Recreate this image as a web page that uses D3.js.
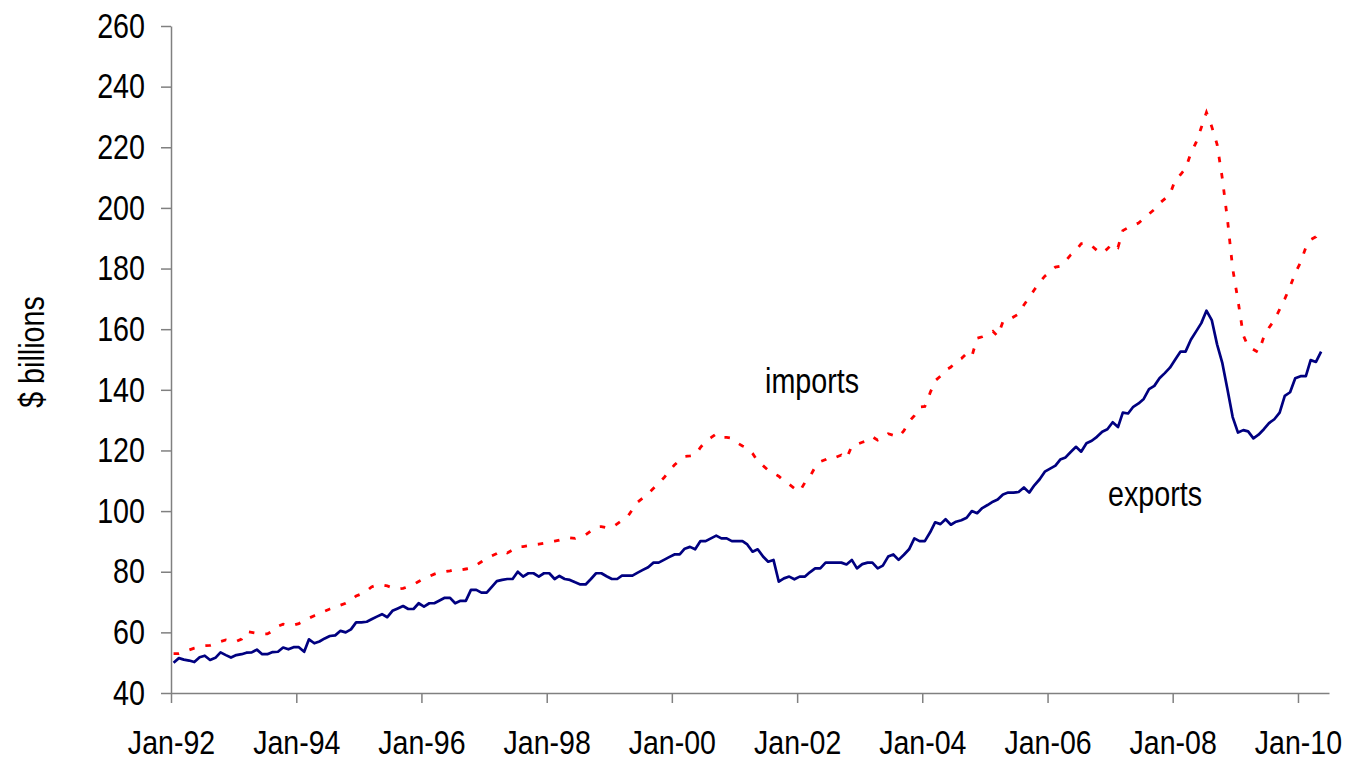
<!DOCTYPE html>
<html>
<head>
<meta charset="utf-8">
<script src="https://cdnjs.cloudflare.com/ajax/libs/d3/7.8.5/d3.min.js"></script>
<style>
  html, body { margin: 0; padding: 0; background: #ffffff; }
  svg { display: block; }
  text { font-family: "Liberation Sans", Arial, sans-serif; fill: #000; }
</style>
</head>
<body>
<svg id="chart" width="1349" height="763"></svg>
<script>
// ---- data (monthly, $ billions), Jan 1992 onward ----
const startMonth = "1992-01";
const exportsData = [
  50.0, 51.5, 51.0, 50.7, 50.2, 51.8, 52.3, 50.9, 51.6, 53.4, 52.5, 51.7,
  52.5, 52.8, 53.3, 53.4, 54.3, 52.8, 52.8, 53.5, 53.6, 55.0, 54.4, 55.1,
  55.1, 53.6, 57.7, 56.4, 57.0, 58.0, 58.8, 59.0, 60.5, 60.0, 61.0, 63.3,
  63.3, 63.5, 64.3, 65.2, 66.0, 65.0, 67.1, 67.9, 68.7, 67.7, 67.7, 69.6,
  68.5, 69.6, 69.6, 70.5, 71.4, 71.4, 69.6, 70.4, 70.4, 74.0, 74.0, 73.1,
  73.1, 75.1, 76.9, 77.3, 77.6, 77.6, 80.0, 78.4, 79.5, 79.5, 78.4, 79.5,
  79.5, 77.6, 78.6, 77.6, 77.3, 76.5, 75.8, 75.8, 77.6, 79.5, 79.5, 78.5,
  77.6, 77.6, 78.7, 78.7, 78.7, 79.7, 80.6, 81.5, 83.0, 83.0, 83.9, 84.8,
  85.7, 85.7, 87.6, 88.2, 87.4, 90.1, 90.1, 91.0, 91.9, 91.0, 91.0, 90.1,
  90.1, 90.1, 89.0, 86.6, 87.4, 85.0, 83.3, 83.9, 76.7, 77.8, 78.4, 77.5,
  78.4, 78.4, 79.8, 81.1, 81.1, 83.0, 83.0, 83.0, 83.0, 82.4, 83.9, 81.1,
  82.5, 83.0, 83.0, 81.1, 82.0, 85.0, 85.7, 83.9, 85.6, 87.4, 91.0, 90.1,
  90.1, 93.0, 96.3, 95.7, 97.3, 95.5, 96.5, 97.0, 97.8, 100.0, 99.3, 101.0,
  102.0, 103.1, 103.8, 105.5, 106.1, 106.1, 106.3, 107.8, 106.1, 108.5, 110.5, 113.0,
  114.0, 115.0, 117.0, 117.7, 119.5, 121.2, 119.6, 122.4, 123.2, 124.5, 126.2, 127.0,
  129.3, 127.7, 132.5, 132.2, 134.4, 135.5, 137.0, 140.2, 141.3, 143.8, 145.5, 147.3,
  150.0, 152.6, 152.6, 156.5, 159.2, 162.0, 166.1, 163.0, 155.0, 149.0, 140.0, 131.0,
  125.9, 126.7, 126.3, 124.0, 125.2, 127.0, 129.0, 130.3, 132.5, 138.0, 139.2, 143.8,
  144.5, 144.5, 149.8, 149.2, 152.6
];
const importsData = [
  53.0, 53.0, 53.5, 54.2, 54.8, 55.2, 55.6, 55.7, 56.3, 57.0, 57.5, 57.0,
  57.0, 57.8, 60.3, 60.0, 59.7, 59.5, 59.5, 60.5, 62.0, 62.7, 62.3, 62.4,
  62.9, 63.8, 64.7, 65.5, 66.3, 67.0, 67.7, 68.3, 69.0, 69.6, 70.6, 72.0,
  72.7, 73.7, 75.0, 75.6, 75.6, 75.3, 74.7, 74.3, 74.5, 75.1, 75.8, 76.8,
  77.8, 78.5, 79.2, 79.8, 80.0, 80.3, 80.8, 80.6, 80.9, 81.2, 82.2, 83.3,
  84.5, 85.3, 86.0, 87.0, 86.2, 87.2, 88.2, 88.3, 88.6, 88.9, 89.1, 89.4,
  89.8, 90.1, 90.4, 90.9, 91.2, 91.0, 91.8, 92.2, 93.5, 94.8, 94.9, 94.5,
  94.6, 95.8, 96.9, 98.0, 100.5, 103.0, 104.3, 105.8, 107.5, 109.3, 111.0, 113.2,
  115.2, 116.8, 118.0, 118.2, 118.5, 121.0, 123.0, 124.2, 125.5, 124.3, 124.3, 124.0,
  122.5, 121.5, 120.8, 119.0, 116.5, 115.0, 113.5, 112.5, 111.5, 110.0, 108.8, 107.5,
  106.5, 109.5, 111.3, 114.5, 116.3, 117.0, 118.0, 117.8, 118.5, 117.3, 121.5, 122.0,
  122.7, 123.2, 124.5, 123.4, 124.3, 125.5, 125.0, 124.5, 126.5, 129.5, 131.5, 134.3,
  134.5, 139.0, 143.0, 144.5, 146.5, 147.5, 149.3, 150.3, 152.0, 151.0, 157.0, 157.5,
  158.3, 159.3, 157.7, 162.5, 163.0, 164.0, 165.0, 168.0, 170.5, 173.0, 175.5, 177.5,
  179.0, 180.5, 180.8, 182.5, 184.5, 186.0, 188.2, 188.5, 187.5, 186.0, 185.0, 186.5,
  188.3, 187.0, 192.5, 193.5, 194.2, 195.0, 196.5, 198.0, 199.5, 201.5, 203.0, 204.5,
  209.2, 211.0, 213.0, 218.0, 221.5, 226.5, 231.5, 226.8, 221.0, 210.0, 196.0, 180.0,
  169.5, 158.0, 154.3, 153.3, 152.3, 157.5, 160.5, 163.0, 166.5, 170.0, 174.0, 178.5,
  182.0, 187.0, 189.5, 190.5, 193.5
];
const yTicks = [40, 60, 80, 100, 120, 140, 160, 180, 200, 220, 240, 260];
const xTickLabels = ["Jan-92", "Jan-94", "Jan-96", "Jan-98", "Jan-00", "Jan-02", "Jan-04", "Jan-06", "Jan-08", "Jan-10"];
const seriesLabels = ["imports", "exports"];
const yTitle = "$ billions";

(function () {
  const svg = d3.select("#chart");
  const mL = 171, mR = 1329, mT = 26, mB = 693;
  const FS = 35, FSX = 34, SX = 0.82;

  const parseMonth = d3.timeParse("%Y-%m");
  const parseLabel = d3.timeParse("%b-%y");
  const start = parseMonth(startMonth);
  const months = exportsData.map((_, i) => d3.timeMonth.offset(start, i));
  const mid = d => new Date(d.getTime() + 15 * 24 * 3600 * 1000);

  const x = d3.scaleTime()
    .domain([start, d3.timeMonth.offset(start, 222)])
    .range([mL, mR]);
  const y = d3.scaleLinear().domain([40, 260]).range([mB, mT]);

  svg.append("rect").attr("width", 1349).attr("height", 763).attr("fill", "#fff");

  // y axis
  const gy = svg.append("g")
    .attr("transform", `translate(${mL},0)`)
    .call(d3.axisLeft(y).tickValues(yTicks).tickSize(10).tickSizeOuter(0).tickPadding(16));
  gy.attr("font-size", FS).attr("font-family", null);
  gy.select(".domain").attr("stroke", "#808080").attr("stroke-width", 1.5);
  gy.selectAll(".tick line").attr("stroke", "#808080").attr("stroke-width", 1.5);
  gy.selectAll(".tick text")
    .attr("x", -26 / SX)
    .attr("transform", `scale(${SX},1)`)
    .attr("fill", "#000");

  // x axis
  const xTickDates = xTickLabels.map(s => parseLabel(s));
  const gx = svg.append("g")
    .attr("transform", `translate(0,${mB})`)
    .call(d3.axisBottom(x).tickValues(xTickDates).tickFormat(d3.timeFormat("%b-%y"))
      .tickSize(10).tickSizeOuter(0).tickPadding(27));
  gx.attr("font-size", FSX).attr("font-family", null);
  gx.select(".domain").attr("stroke", "#808080").attr("stroke-width", 1.5);
  gx.selectAll(".tick line").attr("stroke", "#808080").attr("stroke-width", 1.5);
  gx.selectAll(".tick text")
    .attr("transform", `scale(${SX + 0.02},1)`)
    .attr("fill", "#000");

  // y title
  svg.append("text")
    .attr("transform", `translate(44,352) rotate(-90) scale(${SX},1)`)
    .attr("text-anchor", "middle")
    .attr("font-size", FS)
    .text(yTitle);

  // lines
  const line = d3.line()
    .x((d, i) => x(mid(months[i])))
    .y(d => y(d));

  svg.append("path")
    .datum(exportsData)
    .attr("fill", "none")
    .attr("stroke", "#000080")
    .attr("stroke-width", 2.7)
    .attr("stroke-linejoin", "round")
    .attr("d", line);

  svg.append("path")
    .datum(importsData)
    .attr("fill", "none")
    .attr("stroke", "#ff0000")
    .attr("stroke-width", 2.8)
    .attr("stroke-dasharray", "5.5,11")
    .attr("d", line);

  // series labels
  svg.append("text")
    .attr("transform", `translate(765,393) scale(${SX},1)`)
    .attr("font-size", FS)
    .text(seriesLabels[0]);
  svg.append("text")
    .attr("transform", `translate(1108,506) scale(${SX},1)`)
    .attr("font-size", FS)
    .text(seriesLabels[1]);
})();
</script>
</body>
</html>
